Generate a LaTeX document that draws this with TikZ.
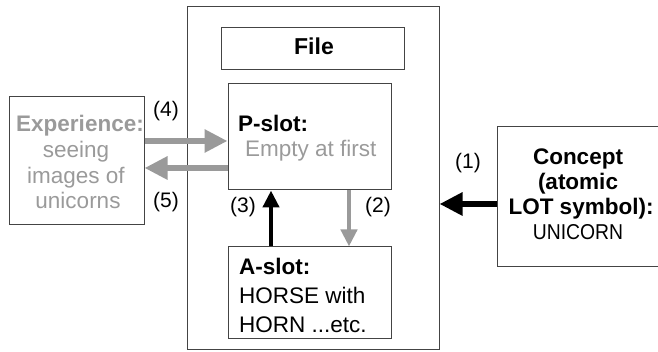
\documentclass[tikz,border=0pt]{standalone}
\usepackage{fontspec}
\usepackage{graphicx}
\setmainfont{Liberation Sans}
\usetikzlibrary{arrows.meta}
\definecolor{edge}{HTML}{444444}
\definecolor{soft}{HTML}{9A9A9A}
\tikzset{
  box/.style={draw=edge, line width=1pt, inner sep=0pt},
  txt/.style={font=\fontsize{22.5}{26}\selectfont, inner sep=0pt},
  btxt/.style={font=\fontsize{22.5}{26}\selectfont\bfseries, inner sep=0pt},
  num/.style={font=\fontsize{21}{24}\selectfont, inner sep=0pt},
  bigarrow/.style={line width=6.5pt, -{Triangle[length=23pt,width=22pt]}},
  smallarrow/.style={line width=4.5pt, -{Triangle[length=17pt,width=16pt]}},
}
\begin{document}
\begin{tikzpicture}[x=1pt,y=1pt]
\useasboundingbox (0,0) rectangle (658,352);
\clip (0,0) rectangle (658,352);
% boxes
\node[box, minimum width=252pt, minimum height=343pt] (file) at (313,173.5) {};
\node[box, minimum width=183pt, minimum height=42pt] (title) at (312.5,303) {};
\node[box, minimum width=163pt, minimum height=106pt] (pslot) at (309.5,215) {};
\node[box, minimum width=163pt, minimum height=92pt] (aslot) at (309.5,59) {};
\node[box, minimum width=135pt, minimum height=128pt] (exp) at (76.5,191) {};
\node[box, minimum width=175pt, minimum height=140pt] (concept) at (584.5,155) {};
% file title
\node[btxt, anchor=base, font=\fontsize{23}{26}\selectfont\bfseries] (titletext) at (314,297) {File};
% P-slot contents
\node[btxt, anchor=base west] (plabel) at (238,220) {P-slot:};
\node[txt, anchor=base west, text=soft] (pempty) at (245,195) {Empty at first};
% A-slot contents
\node[btxt, anchor=base west] (alabel) at (239,77) {A-slot:};
\node[txt, anchor=base west] (aline1) at (239,48) {HORSE with};
\node[txt, anchor=base west] (aline2) at (239,19) {HORN ...etc.};
% experience contents
\node[btxt, anchor=base, text=soft] (exp1) at (80,220) {Experience:};
\node[txt, anchor=base, text=soft] (exp2) at (76,194) {seeing};
\node[txt, anchor=base, text=soft] (exp3) at (76,168) {images of};
\node[txt, anchor=base, text=soft] (exp4) at (78,143) {unicorns};
% concept contents
\node[btxt, anchor=base] (con1) at (578,187) {Concept};
\node[btxt, anchor=base] (con2) at (578,162) {(atomic};
\node[btxt, anchor=base] (con3) at (581,137) {LOT symbol):};
\node[txt, anchor=base, font=\fontsize{21.5}{24}\selectfont] (con4) at (578,112) {\scalebox{0.9}[1]{UNICORN}};
% connectors
\coordinate (c4) at (0,211);
\coordinate (c5) at (0,184);
\coordinate (c1) at (0,148);
\coordinate (c3) at (271,0);
\coordinate (c2) at (349,0);
\draw[bigarrow, soft] (exp.east |- c4) -- (pslot.west |- c4);
\draw[bigarrow, soft] (pslot.west |- c5) -- (exp.east |- c5);
\draw[bigarrow, black] (concept.west |- c1) -- (file.east |- c1);
\draw[smallarrow, black] (aslot.north -| c3) -- (pslot.south -| c3);
\draw[smallarrow, soft] (pslot.south -| c2) -- (aslot.north -| c2);
% step numbers
\node[num] (n4) at (166,241) {(4)};
\node[num] (n5) at (166,150) {(5)};
\node[num] (n3) at (243,145) {(3)};
\node[num] (n2) at (378,145) {(2)};
\node[num] (n1) at (468,189) {(1)};
\end{tikzpicture}
\end{document}
